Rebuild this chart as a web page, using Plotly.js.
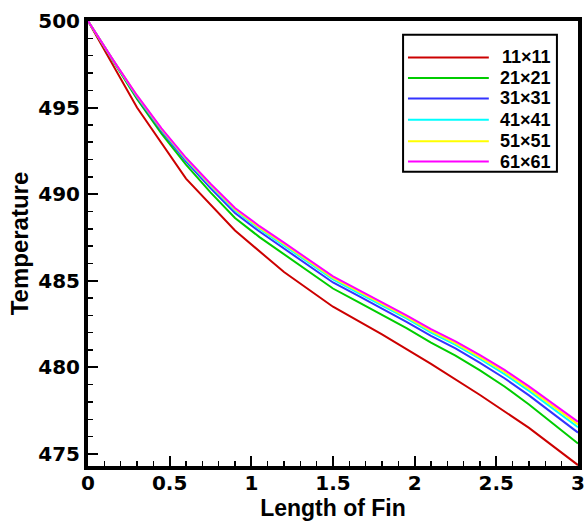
<!DOCTYPE html>
<html>
<head>
<meta charset="utf-8">
<script src="https://cdn.plot.ly/plotly-3.0.1.min.js"></script>
<style>html,body{margin:0;padding:0;background:#fff;}#chart{width:585px;height:527px;}</style>
</head>
<body>
<div id="chart"></div>
<script>
// Data
const names = ["11\u00d711", "21\u00d721", "31\u00d731", "41\u00d741", "51\u00d751", "61\u00d761"];
const colors = ["#cc0000", "#00cc00", "#3333ff", "#00ffff", "#ffff00", "#ff00ff"];

const xCoarse = [0, 0.3, 0.6, 0.9, 1.2, 1.5, 1.8, 2.1, 2.4, 2.7, 3.0];
const t11 = [500, 495.0, 490.9, 487.9, 485.5, 483.5, 481.9, 480.2, 478.4, 476.5, 474.35];

const xFine = [0, 0.15, 0.3, 0.45, 0.6, 0.75, 0.9, 1.05, 1.2, 1.35, 1.5, 1.65, 1.8, 1.95, 2.1, 2.25, 2.4, 2.55, 2.7, 2.85, 3.0];
const t21 = [500, 497.72, 495.5, 493.5, 491.7, 490.1, 488.62, 487.52, 486.54, 485.52, 484.55, 483.79, 483.03, 482.26, 481.43, 480.68, 479.82, 478.89, 477.85, 476.75, 475.6];
const t31 = [500, 497.76, 495.6, 493.65, 491.9, 490.35, 488.91, 487.84, 486.87, 485.86, 484.9, 484.15, 483.39, 482.63, 481.82, 481.09, 480.26, 479.37, 478.38, 477.33, 476.23];
const t41 = [500, 497.78, 495.65, 493.72, 492.0, 490.48, 489.06, 487.99, 487.03, 486.03, 485.08, 484.32, 483.57, 482.82, 482.01, 481.3, 480.48, 479.61, 478.64, 477.61, 476.54];
const t51 = [500, 497.79, 495.68, 493.76, 492.05, 490.54, 489.13, 488.07, 487.12, 486.12, 485.17, 484.41, 483.66, 482.91, 482.11, 481.4, 480.59, 479.73, 478.77, 477.76, 476.7];
const t61 = [500, 497.8, 495.7, 493.8, 492.1, 490.6, 489.2, 488.15, 487.2, 486.2, 485.25, 484.5, 483.75, 483.0, 482.2, 481.5, 480.7, 479.85, 478.9, 477.9, 476.85];

const xTicks = [0, 0.5, 1, 1.5, 2, 2.5, 3];
const xTickText = ["0", "0.5", "1", "1.5", "2", "2.5", "3"];
const yTicks = [475, 480, 485, 490, 495, 500];

const seriesX = [xCoarse, xFine, xFine, xFine, xFine, xFine];
const seriesY = [t11, t21, t31, t41, t51, t61];

const FONT = "Liberation Sans, Arial, Helvetica, sans-serif";
const TICKFONT = "DejaVu Sans, Verdana, sans-serif";

const traces = seriesY.map((ys, i) => ({
  x: seriesX[i], y: ys, type: "scatter", mode: "lines", name: names[i],
  line: {color: colors[i], width: 2}, showlegend: false, hoverinfo: "skip"
}));

// Hand-built legend (long line samples like the reference)
const shapes = [{type: "rect", xref: "paper", yref: "paper", x0: 0.643, x1: 0.957, y0: 0.661, y1: 0.969,
  line: {color: "#000", width: 2}, fillcolor: "#fff", layer: "above"}];
const annotations = [];
const rowY = [0.918, 0.872, 0.826, 0.778, 0.730, 0.684];
names.forEach((n, i) => {
  shapes.push({type: "line", xref: "paper", yref: "paper", x0: 0.653, x1: 0.818, y0: rowY[i], y1: rowY[i],
    line: {color: colors[i], width: 2}, layer: "above"});
  annotations.push({xref: "paper", yref: "paper", x: 0.948, y: rowY[i], xanchor: "right", yanchor: "middle",
    text: "<b>" + n + "</b>", showarrow: false, font: {family: FONT, size: 18, color: "#000"}});
});

const layout = {
  width: 585, height: 527,
  margin: {l: 88, r: 7, t: 21, b: 61, pad: 0},
  paper_bgcolor: "#fff", plot_bgcolor: "#fff",
  showlegend: false,
  xaxis: {
    range: [0, 3], tickvals: xTicks, ticktext: xTickText.map(s => "<b>" + s + "</b>"),
    ticks: "inside", ticklen: 10, tickwidth: 2, tickcolor: "#000",
    minor: {dtick: 0.1, ticks: "inside", ticklen: 5, tickwidth: 1.5, tickcolor: "#000", showgrid: false},
    showline: true, linewidth: 4, linecolor: "#000", mirror: true,
    showgrid: false, zeroline: false,
    ticklabelstandoff: -4,
    tickfont: {family: TICKFONT, size: 20, color: "#000"},
    title: {text: "<b>Length of Fin</b>", font: {family: FONT, size: 23, color: "#000"}, standoff: 0}
  },
  yaxis: {
    range: [474.3, 500], tickvals: yTicks, ticktext: yTicks.map(v => "<b>" + v + "</b>"),
    ticks: "inside", ticklen: 10, tickwidth: 2, tickcolor: "#000",
    minor: {dtick: 1, ticks: "inside", ticklen: 5, tickwidth: 1.5, tickcolor: "#000", showgrid: false},
    showline: true, linewidth: 4, linecolor: "#000", mirror: true,
    showgrid: false, zeroline: false,
    tickfont: {family: TICKFONT, size: 20, color: "#000"},
    title: {text: "<b>Temperature</b>", font: {family: FONT, size: 24, color: "#000"}, standoff: 4}
  },
  shapes: shapes,
  annotations: annotations
};

Plotly.newPlot("chart", traces, layout, {staticPlot: true, displayModeBar: false});
</script>
</body>
</html>
